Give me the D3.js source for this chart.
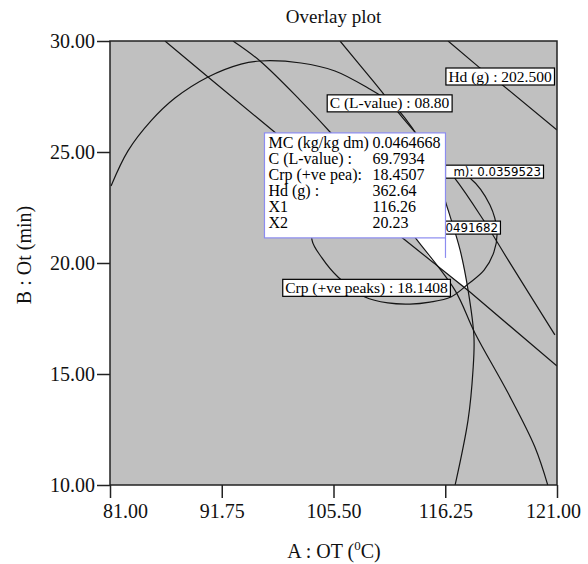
<!DOCTYPE html>
<html><head><meta charset="utf-8">
<script src="https://cdn.jsdelivr.net/npm/d3@7"></script>
<style>body{margin:0;background:#fff}</style>
</head><body><svg id="c" width="588" height="564"></svg>
<script>
// ---- data ----
const xTickValues = [81, 91.75, 105.5, 116.25, 121];
const xTickLabels = ["81.00", "91.75", "105.50", "116.25", "121.00"];
const yTickValues = [10, 15, 20, 25, 30];
const yTickLabels = ["10.00", "15.00", "20.00", "25.00", "30.00"];

// C (L-value) contour
const contourC = [[81.10,23.47],[82.73,25.05],[84.94,26.40],[87.25,27.43],[90.43,28.38],[94.12,28.96],[96.46,29.10],[101.50,29.01],[105.64,28.65],[108.82,27.88],[111.03,27.21],[112.38,26.53],[113.82,25.54],[115.26,24.19],[116.37,22.39],[116.88,20.59],[117.22,18.78],[117.47,16.67],[117.43,15.18],[117.22,12.93],[116.66,9.95]];
// Crp (+ve peaks) contour (closed)
const contourCrp = [[102.85,21.04],[103.34,22.30],[105.06,23.38],[107.57,24.19],[110.45,24.59],[113.34,24.64],[116.23,24.37],[117.30,23.83],[118.15,22.61],[118.45,21.40],[118.32,20.50],[117.90,19.68],[117.22,19.05],[116.49,18.47],[114.78,18.24],[112.86,18.15],[110.74,18.20],[108.53,18.47],[105.93,19.37],[104.08,20.23]];
// Hd contours
const contourHdLow = [[86.29,30],[90.43,28.38],[96.46,26.44],[105.07,23.83],[111.90,21.22],[117.30,18.69],[121,15.36]];
const contourHdHigh = [[116.37,30],[117.73,28.78],[118.58,28.11],[121,25.99]];
// MC contours
const contourMCLow = [[106.13,30],[109.30,28.20],[112.57,26.31],[116.62,23.87],[117.90,21.89],[118.92,20.14],[120.91,16.76]];
const contourMCHigh = [[93.13,30],[96.46,29.10],[101.38,27.34],[105.07,25.90],[109.49,23.51],[113.53,21.04],[116.66,18.78],[117.51,16.85],[118.92,14.14],[120.06,11.71],[120.62,9.95]];
// feasible (white) region
const feasibleRegion = [[109.97,23.29],[115.26,23.74],[116.28,22.61],[116.54,21.85],[116.88,20.59],[117.22,18.83],[115.16,19.95],[113.53,21.04],[111.90,22.03]];

// contour labels (the two MC labels are partly hidden behind the tooltip: only the visible part is kept)
const labelTexts = ["Hd (g) : 202.500", "C (L-value) : 08.80", "Crp (+ve peaks) : 18.1408", "m): 0.0359523", "0491682"];
const labelX = [118.58, 110.89, 108.67, 120.32, 118.49];
const labelY = [28.42, 27.21, 18.90, 24.12, 21.60];
const labelAnchor = ["middle", "middle", "middle", "end", "end"];
const labelSans = [false, false, false, true, true];

const tipNames = ["MC (kg/kg dm)", "C (L-value) :", "Crp (+ve pea):", "Hd (g) :", "X1", "X2"];
const tipValues = ["0.0464668", "69.7934", "18.4507", "362.64", "116.26", "20.23"];
const flagPoint = [116.26, 20.23];

// ---- layout ----
const L = 110, R = 557, T = 41, B = 485;
const serif = "'Liberation Serif','Times New Roman',serif";
const svg = d3.select("#c");
svg.append("rect").attr("width", 588).attr("height", 564).attr("fill", "#fff");

const x = d3.scaleLinear().domain(xTickValues)
  .range(xTickValues.map((d, i) => L + i * (R - L) / (xTickValues.length - 1)));
const y = d3.scaleLinear().domain([10, 30]).range([B, T]);

svg.append("defs").append("clipPath").attr("id", "clip")
  .append("rect").attr("x", L).attr("y", T).attr("width", R - L).attr("height", B - T);

const plot = svg.append("g").attr("clip-path", "url(#clip)");
plot.append("rect").attr("x", L).attr("y", T).attr("width", R - L).attr("height", B - T).attr("fill", "#c0c0c0");

const area = d3.line().x(d => x(d[0])).y(d => y(d[1])).curve(d3.curveLinearClosed);
plot.append("path").attr("d", area(feasibleRegion)).attr("fill", "#fff");

const smooth = d3.line().x(d => x(d[0])).y(d => y(d[1])).curve(d3.curveCatmullRom);
const straight = d3.line().x(d => x(d[0])).y(d => y(d[1]));
const closed = d3.line().x(d => x(d[0])).y(d => y(d[1])).curve(d3.curveCatmullRomClosed);

const lineStyle = p => p.attr("fill", "none").attr("stroke", "#151515").attr("stroke-width", 1.2);
plot.append("path").attr("d", smooth(contourC)).call(lineStyle);
plot.append("path").attr("d", closed(contourCrp)).call(lineStyle);
plot.append("path").attr("d", straight(contourHdLow)).call(lineStyle);
plot.append("path").attr("d", straight(contourHdHigh)).call(lineStyle);
plot.append("path").attr("d", smooth(contourMCLow)).call(lineStyle);
plot.append("path").attr("d", smooth(contourMCHigh)).call(lineStyle);

// frame
svg.append("rect").attr("x", L).attr("y", T).attr("width", R - L).attr("height", B - T)
  .attr("fill", "none").attr("stroke", "#222").attr("stroke-width", 1.5);

// axes
const xAxis = svg.append("g").attr("transform", `translate(0,${B})`)
  .call(d3.axisBottom(x).tickValues(xTickValues).tickFormat((d, i) => xTickLabels[i]).tickSize(13).tickPadding(6));
const yAxis = svg.append("g").attr("transform", `translate(${L},0)`)
  .call(d3.axisLeft(y).tickValues(yTickValues).tickFormat((d, i) => yTickLabels[i]).tickSize(13).tickPadding(2));
[xAxis, yAxis].forEach(a => {
  a.select(".domain").remove();
  a.selectAll("line").attr("stroke", "#222").attr("stroke-width", 1.5);
  a.selectAll("text").attr("font-family", serif).attr("font-size", 20).attr("fill", "#111");
});
xAxis.selectAll(".tick text").attr("dx", (d, i) => i === 0 ? 15 : (i === xTickValues.length - 1 ? -4 : 0));

// tooltip geometry
const px = x(flagPoint[0]), py = y(flagPoint[1]);
const tipW = 181, tipH = 105;
const tipR = px, tipB = py - 20, tipL = tipR - tipW, tipT = tipB - tipH;

// contour labels
labelTexts.forEach((t, i) => {
  const g = svg.append("g");
  const txt = g.append("text").attr("x", x(labelX[i])).attr("y", y(labelY[i])).attr("dy", "0.35em")
    .attr("text-anchor", labelAnchor[i])
    .attr("font-family", labelSans[i] ? "'DejaVu Sans',sans-serif" : serif)
    .attr("font-size", labelSans[i] ? 11.8 : 15.5).attr("fill", "#000").text(t);
  const bb = txt.node().getBBox();
  const bx = labelAnchor[i] === "end" ? Math.min(bb.x - 2.5, tipR) : bb.x - 2.5;
  const bw = bb.x + bb.width + 2.5 - bx;
  g.insert("rect", "text").attr("x", bx).attr("y", bb.y + 0.5).attr("width", bw).attr("height", bb.height - 1)
    .attr("fill", "#fff").attr("stroke", "#000").attr("stroke-width", 1.2);
});

// tooltip
svg.append("line").attr("x1", px).attr("x2", px).attr("y1", tipB).attr("y2", py)
  .attr("stroke", "#8c8cf0").attr("stroke-width", 1.2);
svg.append("rect").attr("x", tipL).attr("y", tipT).attr("width", tipW).attr("height", tipH)
  .attr("fill", "#fff").attr("stroke", "#8c8cf0").attr("stroke-width", 1.2);
tipNames.forEach((n, i) => {
  svg.append("text").attr("x", tipL + 4).attr("y", tipT + 15 + i * 16)
    .attr("font-family", serif).attr("font-size", 16).attr("fill", "#000").text(n);
  svg.append("text").attr("x", tipL + 108).attr("y", tipT + 15 + i * 16)
    .attr("font-family", serif).attr("font-size", 16).attr("fill", "#000").text(tipValues[i]);
});

// titles
svg.append("text").attr("x", (L + R) / 2).attr("y", 23).attr("text-anchor", "middle")
  .attr("font-family", serif).attr("font-size", 19).attr("fill", "#111").text("Overlay plot");
svg.append("text").attr("transform", `translate(31,255) rotate(-90)`).attr("text-anchor", "middle")
  .attr("font-family", serif).attr("font-size", 20).attr("fill", "#111").text("B : Ot (min)");
const xl = svg.append("text").attr("x", 334).attr("y", 558).attr("text-anchor", "middle")
  .attr("font-family", serif).attr("font-size", 20).attr("fill", "#111");
xl.append("tspan").text("A : OT (");
xl.append("tspan").attr("font-size", 13).attr("dy", -8).text("0");
xl.append("tspan").attr("dy", 8).text("C)");
</script></body></html>
